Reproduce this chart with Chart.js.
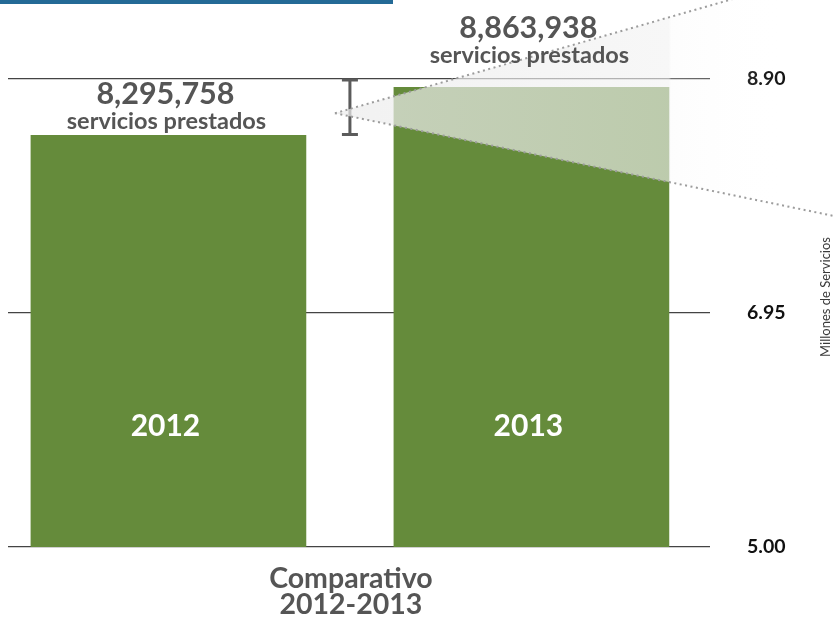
<!DOCTYPE html>
<html>
<head>
<meta charset="utf-8">
<script src="https://cdn.jsdelivr.net/npm/chart.js@4"></script>
<style>
  html, body { margin: 0; padding: 0; background: #fff; overflow: hidden; }
  #wrap { position: relative; width: 833px; height: 621px; }
</style>
</head>
<body>
<div id="wrap"><canvas id="chart"></canvas></div>
<script>
  // data
  const years = [2012, 2013];
  const servicios = [8.43, 8.83];          // bar heights, millions
  const serviciosTexto = ["8,295,758", "8,863,938"];
  const yTicks = [5.00, 6.95, 8.90];

  const green = "#658b3b";
  const gray = "#555555";

  const decor = {
    id: "decor",
    beforeDraw(chart) {
      const ctx = chart.ctx;
      ctx.save();
      ctx.fillStyle = "#fff";
      ctx.fillRect(0, 0, chart.width, chart.height);
      ctx.fillStyle = "#246a96";
      ctx.fillRect(0, 0, 393, 4);
      ctx.restore();
    },
    afterDatasetsDraw(chart) {
      const ctx = chart.ctx;
      const area = chart.chartArea;
      const bars = chart.getDatasetMeta(0).data;
      const b0 = bars[0], b1 = bars[1];
      const gapX = ((b0.x + b0.width / 2) + (b1.x - b1.width / 2)) / 2;
      const b1Right = b1.x + b1.width / 2;

      ctx.save();

      // difference marker
      const errTop = area.top + 1;
      const errBottom = b0.y - 1;
      ctx.strokeStyle = "#5b5b5b";
      ctx.lineWidth = 3;
      ctx.beginPath();
      ctx.moveTo(gapX, errTop); ctx.lineTo(gapX, errBottom);
      ctx.moveTo(gapX - 8, errTop); ctx.lineTo(gapX + 8, errTop);
      ctx.moveTo(gapX - 8, errBottom); ctx.lineTo(gapX + 8, errBottom);
      ctx.stroke();

      // zoom wedge
      const ax = gapX - 15, ay = (errTop + errBottom) / 2 + 6;
      const endX = chart.width;
      const upY = ay - 0.287 * (endX - ax);
      const loY = ay + 0.206 * (endX - ax);
      const gEnd = 790;
      const grad = ctx.createLinearGradient(ax, 0, gEnd, 0);
      const fBar = (b1Right - ax) / (gEnd - ax);
      grad.addColorStop(0, "rgba(236,236,236,0.72)");
      grad.addColorStop(fBar, "rgba(242,242,242,0.62)");
      grad.addColorStop(fBar + 0.005, "rgba(246,246,246,0.25)");
      grad.addColorStop(1, "rgba(255,255,255,0)");
      ctx.fillStyle = grad;
      ctx.beginPath();
      ctx.moveTo(ax, ay); ctx.lineTo(endX, upY); ctx.lineTo(endX, loY);
      ctx.closePath();
      ctx.fill();

      ctx.strokeStyle = "#9c9c9c";
      ctx.lineWidth = 2;
      ctx.setLineDash([2, 3.5]);
      ctx.beginPath();
      ctx.moveTo(ax, ay); ctx.lineTo(endX, upY);
      ctx.moveTo(ax, ay); ctx.lineTo(endX, loY);
      ctx.stroke();
      ctx.setLineDash([]);

      // value labels above bars
      ctx.textAlign = "center";
      ctx.textBaseline = "alphabetic";
      ctx.fillStyle = gray;
      bars.forEach((bar, i) => {
        const anchor = (bar.y - area.top < 20) ? area.top - 16 : bar.y - 6;
        ctx.font = "bold 30.5px Lato";
        ctx.fillText(serviciosTexto[i], bar.x - 3, anchor - 25);
        ctx.font = "bold 23.5px Lato";
        ctx.fillText("servicios prestados", bar.x - 2, anchor);
      });

      // year labels inside bars
      ctx.fillStyle = "#fff";
      ctx.font = "bold 30px Lato";
      ctx.textBaseline = "middle";
      bars.forEach((bar, i) => {
        ctx.fillText(String(years[i]), bar.x - 3, area.bottom - 121);
      });

      // category caption
      ctx.fillStyle = gray;
      ctx.font = "bold 28.5px Lato";
      ctx.textBaseline = "alphabetic";
      ctx.fillText("Comparativo", gapX + 1, area.bottom + 41);
      ctx.fillText("2012-2013", gapX + 1, area.bottom + 67);

      // axis title, reading bottom to top
      ctx.translate(826, area.top + 218);
      ctx.rotate(-Math.PI / 2);
      ctx.font = "13px Lato";
      ctx.fillStyle = "#3a3a3a";
      ctx.textBaseline = "middle";
      ctx.fillText("Millones de Servicios", 0, 0);

      ctx.restore();
    }
  };

  new Chart(document.getElementById("chart"), {
    type: "bar",
    data: {
      labels: years,
      datasets: [
        {
          data: servicios,
          backgroundColor: green,
          borderWidth: 0,
          barThickness: 275
        }
      ]
    },
    options: {
      responsive: true,
      maintainAspectRatio: false,
      animation: false,
      layout: { padding: { top: 79, bottom: 74, left: 8, right: 0 } },
      plugins: { legend: { display: false }, tooltip: { enabled: false } },
      scales: {
        x: {
          type: "linear",
          min: 2011.558,
          max: 2013.492,
          offset: false,
          display: false
        },
        y: {
          position: "right",
          min: 5,
          max: 8.9,
          afterBuildTicks: (scale) => {
            scale.ticks = yTicks.map((v) => ({ value: v }));
          },
          afterFit: (scale) => {
            scale.width = 123;
          },
          border: { display: false },
          grid: { color: "#444", lineWidth: 1.3, drawTicks: false },
          ticks: {
            padding: 37,
            color: "#111",
            font: { family: "Lato", size: 19.5, weight: "bold" },
            callback: (v) => Number(v).toFixed(2)
          }
        }
      }
    },
    plugins: [decor]
  });
</script>
</body>
</html>
